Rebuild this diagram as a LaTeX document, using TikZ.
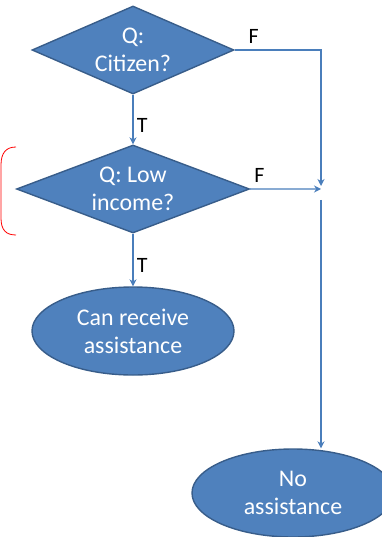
\documentclass[tikz,border=0pt]{standalone}
\usepackage{fontspec}
\setmainfont{Carlito}
\usepackage{tikz}
\usetikzlibrary{arrows.meta,shapes.geometric}
\definecolor{boxblue}{HTML}{4F81BD}
\definecolor{rimblue}{HTML}{385D8A}
\definecolor{lineblue}{HTML}{4A7EBB}

\begin{document}
\begin{tikzpicture}[x=1bp,y=-1bp,->,>={Stealth[length=7bp,width=7bp]},auto,node distance=140bp,line width=1.3bp,draw=lineblue]
  \tikzstyle{question}=[diamond,fill=boxblue,draw=rimblue,line width=1.4bp,text=white,inner sep=0pt,
    minimum height=88bp,align=center,font=\fontsize{24}{28}\selectfont]
  \tikzstyle{answer}=[ellipse,fill=boxblue,draw=rimblue,line width=1.4bp,text=white,inner sep=0pt,
    minimum width=202bp,minimum height=88bp,align=center,font=\fontsize{24}{28}\selectfont]
  \tikzstyle{every edge}=[draw=lineblue,line width=1.3bp]
  \tikzstyle{branch}=[text=black,font=\fontsize{22}{26}\selectfont]

  \useasboundingbox (0,0) rectangle (381,537);

  \node[question,aspect=2.3,minimum width=202bp]  (citizen)                                  at (133,50) {Q:\\Citizen?};
  \node[question,aspect=2.65,minimum width=233bp] (income)  [below of=citizen,node distance=139bp] {Q: Low\\income?};
  \node[answer]                                   (receive) [below of=income,node distance=142bp]  {Can receive\\assistance};
  \node[answer]                                   (none)                                     at (293,493) {No\\assistance};

  \coordinate (jtop)  at (321,186);
  \coordinate (join)  at (321,189);
  \coordinate (split) at (321,200);

  \path (citizen) edge node[branch,pos=0.62] {T} (income)
        (income)  edge node[branch,pos=0.6]  {T} (receive);

  \draw[lineblue] (citizen.east) -| node[branch,pos=0.11,above,yshift=3bp] {F} (jtop);
  \draw[lineblue] (income.east) -- node[branch,pos=0.13,above,yshift=3bp] {F} (join);
  \draw[lineblue] (split) -- (split |- none.north);

  % red bracket beside the second question
  \draw[-,red,line width=0.8bp] (16,147) .. controls (6,147) and (1,153) .. (1,165) -- (1,218)
    .. controls (1,230) and (6,235) .. (16,235);
\end{tikzpicture}
\end{document}
